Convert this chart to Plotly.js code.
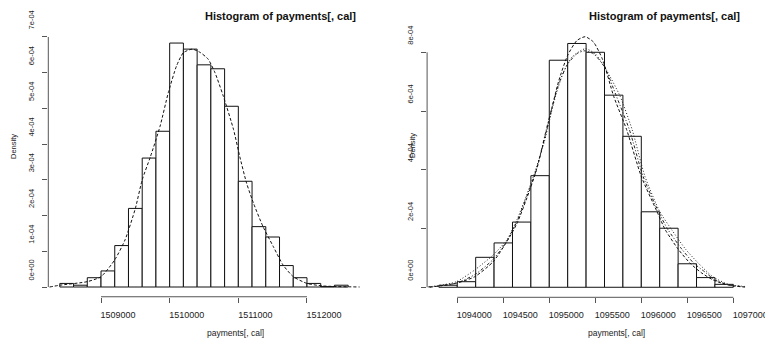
<!DOCTYPE html>
<html>
<head>
<meta charset="utf-8">
<script src="https://cdn.plot.ly/plotly-3.0.1.min.js"></script>
<style>html,body{margin:0;padding:0;background:#fff;}#chart{width:765px;height:339px;}</style>
</head>
<body>
<div id="chart"></div>
<script>
// ---------- Left panel data ----------
const leftBreaks = [1508400, 1508600, 1508800, 1509000, 1509200, 1509400, 1509600, 1509800,
  1510000, 1510200, 1510400, 1510600, 1510800, 1511000, 1511200, 1511400, 1511600, 1511800,
  1512000, 1512200, 1512400, 1512600];
const leftDensity = [1.0e-5, 0.5e-5, 2.6e-5, 4.5e-5, 1.16e-4, 2.2e-4, 3.61e-4, 4.36e-4,
  6.83e-4, 6.66e-4, 6.22e-4, 6.11e-4, 5.06e-4, 2.96e-4, 1.69e-4, 1.40e-4, 0.6e-4, 0.26e-4,
  1.0e-5, 0.1e-5, 0.5e-5];
const leftKdeX = [1508250, 1508400, 1508800, 1509000, 1509200, 1509350, 1509500, 1509600, 1509720,
  1509860, 1509980, 1510100, 1510200, 1510330, 1510450, 1510560, 1510660, 1510780, 1510930,
  1511020, 1511120, 1511220, 1511360, 1511510, 1511650, 1511800, 1512000, 1512230, 1512770];
const leftKdeY = [0, 0.05e-4, 0.15e-4, 0.29e-4, 0.76e-4, 1.32e-4, 2.2e-4, 3.0e-4, 3.65e-4,
  4.5e-4, 5.44e-4, 6.19e-4, 6.56e-4, 6.66e-4, 6.56e-4, 6.38e-4, 6.0e-4, 5.35e-4, 4.41e-4,
  3.66e-4, 2.91e-4, 2.35e-4, 1.69e-4, 1.13e-4, 0.62e-4, 0.29e-4, 0.1e-4, 0.03e-4, 0];
const leftXTicks = [1509000, 1510000, 1511000, 1512000];
const leftXTickText = ["1509000", "1510000", "1511000", "1512000"];
const leftYTicks = [0, 1e-4, 2e-4, 3e-4, 4e-4, 5e-4, 6e-4, 7e-4];
const leftYTickText = ["0e+00", "1e-04", "2e-04", "3e-04", "4e-04", "5e-04", "6e-04", "7e-04"];

// ---------- Right panel data ----------
const rightBreaks = [1093800, 1094000, 1094200, 1094400, 1094600, 1094800, 1095000, 1095200,
  1095400, 1095600, 1095800, 1096000, 1096200, 1096400, 1096600, 1096800, 1097000];
const rightDensity = [0.07e-4, 0.19e-4, 1.02e-4, 1.51e-4, 2.22e-4, 3.8e-4, 7.73e-4, 8.3e-4,
  8.0e-4, 6.54e-4, 5.14e-4, 2.57e-4, 2.01e-4, 0.8e-4, 0.33e-4, 0.1e-4];
const rightCurveAX = [1093700, 1093990, 1094190, 1094390, 1094540, 1094650, 1094790, 1094870,
  1094990, 1095100, 1095200, 1095300, 1095390, 1095480, 1095580, 1095700, 1095840, 1096000,
  1096170, 1096260, 1096400, 1096530, 1096650, 1096780, 1096950, 1097150];
const rightCurveAY = [0, 0.14e-4, 0.36e-4, 0.87e-4, 1.56e-4, 2.18e-4, 3.33e-4, 4.1e-4,
  5.6e-4, 7.0e-4, 7.9e-4, 8.4e-4, 8.53e-4, 8.35e-4, 7.75e-4, 6.5e-4, 5.37e-4, 3.77e-4,
  2.58e-4, 1.96e-4, 1.3e-4, 0.82e-4, 0.5e-4, 0.25e-4, 0.07e-4, 0];
const rightCurveBX = [1093650, 1093800, 1093990, 1094190, 1094390, 1094540, 1094650, 1094750,
  1094830, 1094950, 1095050, 1095150, 1095250, 1095390, 1095500, 1095620, 1095770, 1095900,
  1096040, 1096200, 1096330, 1096480, 1096620, 1096780, 1096950, 1097150];
const rightCurveBY = [0, 0.06e-4, 0.19e-4, 0.59e-4, 1.10e-4, 1.62e-4, 2.31e-4, 3.11e-4,
  3.8e-4, 5.0e-4, 6.3e-4, 7.3e-4, 7.85e-4, 8.12e-4, 7.95e-4, 7.4e-4, 6.5e-4, 5.37e-4,
  3.77e-4, 2.58e-4, 1.96e-4, 1.3e-4, 0.82e-4, 0.35e-4, 0.1e-4, 0.02e-4];
const rightCurveCX = [1093600, 1093800, 1094000, 1094200, 1094390, 1094540, 1094650, 1094780,
  1094860, 1094990, 1095100, 1095200, 1095300, 1095380, 1095480, 1095600, 1095730, 1095870,
  1096020, 1096185, 1096290, 1096440, 1096570, 1096700, 1096800, 1096950, 1097200];
const rightCurveCY = [0, 0.04e-4, 0.15e-4, 0.45e-4, 0.95e-4, 1.58e-4, 2.25e-4, 3.3e-4,
  4.0e-4, 5.65e-4, 6.9e-4, 7.6e-4, 7.95e-4, 8.05e-4, 7.95e-4, 7.5e-4, 6.5e-4, 5.37e-4,
  3.77e-4, 2.58e-4, 1.96e-4, 1.3e-4, 0.82e-4, 0.5e-4, 0.25e-4, 0.08e-4, 0];
const rightXTicks = [1094000, 1094500, 1095000, 1095500, 1096000, 1096500, 1097000];
const rightXTickText = ["1094000", "1094500", "1095000", "1095500", "1096000", "1096500", "1097000"];
const rightYTicks = [0, 2e-4, 4e-4, 6e-4, 8e-4];
const rightYTickText = ["0e+00", "2e-04", "4e-04", "6e-04", "8e-04"];

const titleText = "Histogram of payments[, cal]";
const xLabelText = "payments[, cal]";
const yLabelText = "Density";

// ---------- Build ----------
function histTrace(breaks, dens, xa, ya) {
  const centers = [], widths = [];
  for (let i = 0; i < dens.length; i++) {
    centers.push((breaks[i] + breaks[i + 1]) / 2);
    widths.push(breaks[i + 1] - breaks[i]);
  }
  return {
    type: 'bar', x: centers, y: dens, width: widths, xaxis: xa, yaxis: ya,
    marker: {color: '#ffffff', line: {color: '#111111', width: 1}},
    hoverinfo: 'skip'
  };
}
function lineTrace(x, y, dash, xa, ya, color) {
  return {type: 'scatter', mode: 'lines', x: x, y: y, xaxis: xa, yaxis: ya,
    line: {color: color || '#111111', width: 1, dash: dash, shape: 'spline', smoothing: 0.6},
    hoverinfo: 'skip'};
}

const traces = [
  histTrace(leftBreaks, leftDensity, 'x', 'y'),
  lineTrace(leftKdeX, leftKdeY, '3px,2px', 'x', 'y'),
  histTrace(rightBreaks, rightDensity, 'x2', 'y2'),
  lineTrace(rightCurveBX, rightCurveBY, '1px,2px', 'x2', 'y2', '#222222'),
  lineTrace(rightCurveCX, rightCurveCY, '3px,2px,1px,2px', 'x2', 'y2', '#222222'),
  lineTrace(rightCurveAX, rightCurveAY, '3px,2px', 'x2', 'y2')
];

const fam = 'Liberation Sans, Arial, sans-serif';
const tickFontX = {family: fam, size: 9, color: '#222'};
const tickFontY = {family: fam, size: 7.5, color: '#222'};

function xAxis(domain, range, vals, text, anchor) {
  return {domain: domain, range: range, anchor: anchor, showgrid: false, zeroline: false,
    showline: false, ticks: 'outside', ticklen: 5, tickcolor: '#555', tickwidth: 1,
    tickmode: 'array', tickvals: vals, ticktext: text, tickfont: tickFontX,
    ticklabelshift: 17, ticklabelstandoff: 4, ticklabeloverflow: 'allow', fixedrange: true};
}
function yAxis(domain, range, vals, text, anchor) {
  return {domain: domain, range: range, anchor: anchor, showgrid: false, zeroline: false,
    showline: false, ticks: 'outside', ticklen: 5, tickcolor: '#555', tickwidth: 1,
    tickmode: 'array', tickvals: vals, ticktext: text, tickfont: tickFontY, tickangle: -90,
    ticklabelshift: -16, ticklabelstandoff: 5, ticklabeloverflow: 'allow', fixedrange: true};
}

const W = 765, H = 339;
const lxDom = [48.3 / W, 359.7 / W];
const rxDom = [427.1 / W, 745.1 / W];
const lyDom = [(H - 296.75) / H, (H - 33.3) / H];
const ryDom = [(H - 297.3) / H, (H - 26.7) / H];

const shapes = [
  {type: 'line', xref: 'x', yref: 'paper', x0: leftXTicks[0], x1: leftXTicks[leftXTicks.length - 1],
    y0: lyDom[0], y1: lyDom[0], line: {color: '#555', width: 1}},
  {type: 'line', xref: 'paper', yref: 'y', x0: lxDom[0], x1: lxDom[0],
    y0: leftYTicks[0], y1: leftYTicks[leftYTicks.length - 1], line: {color: '#555', width: 1}},
  {type: 'line', xref: 'x2', yref: 'paper', x0: rightXTicks[0], x1: rightXTicks[rightXTicks.length - 1],
    y0: ryDom[0], y1: ryDom[0], line: {color: '#555', width: 1}},
  {type: 'line', xref: 'paper', yref: 'y2', x0: rxDom[0], x1: rxDom[0],
    y0: rightYTicks[0], y1: rightYTicks[rightYTicks.length - 1], line: {color: '#555', width: 1}}
];

const annotations = [
  {text: '<b>' + titleText + '</b>', xref: 'paper', yref: 'paper', x: 203 / W, y: 1 - 16 / H,
    xanchor: 'left', yanchor: 'middle', showarrow: false, font: {family: fam, size: 11, color: '#111'}},
  {text: '<b>' + titleText + '</b>', xref: 'paper', yref: 'paper', x: 587 / W, y: 1 - 16 / H,
    xanchor: 'left', yanchor: 'middle', showarrow: false, font: {family: fam, size: 11, color: '#111'}},
  {text: xLabelText, xref: 'paper', yref: 'paper', x: 205 / W, y: 1 - 333 / H,
    xanchor: 'left', yanchor: 'middle', showarrow: false, font: {family: fam, size: 8.5, color: '#222'}},
  {text: xLabelText, xref: 'paper', yref: 'paper', x: 586 / W, y: 1 - 333 / H,
    xanchor: 'left', yanchor: 'middle', showarrow: false, font: {family: fam, size: 8.5, color: '#222'}},
  {text: yLabelText, xref: 'paper', yref: 'paper', x: 13 / W, y: 1 - 146 / H, textangle: -90,
    xanchor: 'center', yanchor: 'middle', showarrow: false, font: {family: fam, size: 7.5, color: '#222'}},
  {text: yLabelText, xref: 'paper', yref: 'paper', x: 412 / W, y: 1 - 146 / H, textangle: -90,
    xanchor: 'center', yanchor: 'middle', showarrow: false, font: {family: fam, size: 7.5, color: '#222'}}
];

const layout = {
  width: W, height: H, margin: {l: 0, r: 0, t: 0, b: 0},
  paper_bgcolor: '#ffffff', plot_bgcolor: '#ffffff', showlegend: false,
  bargap: 0, barmode: 'overlay',
  font: {family: fam, color: '#222'},
  xaxis: xAxis(lxDom, [1508232, 1512768], leftXTicks, leftXTickText, 'y'),
  yaxis: yAxis(lyDom, [-0.273e-4, 7.103e-4], leftYTicks, leftYTickText, 'x'),
  xaxis2: xAxis(rxDom, [1093672, 1097128], rightXTicks, rightXTickText, 'y2'),
  yaxis2: yAxis(ryDom, [-0.341e-4, 8.871e-4], rightYTicks, rightYTickText, 'x2'),
  shapes: shapes, annotations: annotations
};

Plotly.newPlot('chart', traces, layout, {staticPlot: true, displayModeBar: false});
</script>
</body>
</html>
